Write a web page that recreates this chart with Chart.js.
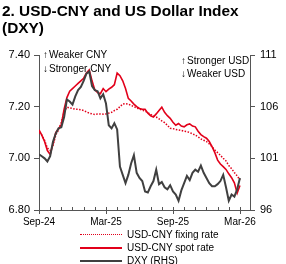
<!DOCTYPE html>
<html>
<head>
<meta charset="utf-8">
<script src="https://cdn.jsdelivr.net/npm/chart.js@4/dist/chart.umd.min.js"></script>
<style>
  body { margin: 0; background: #fff; font-family: "Liberation Sans", Arial, sans-serif; }
  #wrap { position: relative; width: 286px; height: 264px; overflow: hidden; }
  #title { position: absolute; left: 2px; top: 2px; font-size: 15.4px; font-weight: bold; line-height: 17px; color: #000; }
  canvas { position: absolute; left: 0; top: 0; }
  #legend { position: absolute; left: 80px; top: 228px; font-size: 10px; color: #000; }
  .row { height: 13px; line-height: 13px; display: flex; align-items: center; }
  .swatch { width: 42px; height: 0; margin-right: 5px; }
</style>
</head>
<body>
<div id="wrap">
  <canvas id="chart" width="286" height="232"></canvas>
  <div id="title">2. USD-CNY and US Dollar Index<br>(DXY)</div>
  <div id="legend">
    <div class="row"><span class="swatch" style="border-top:1.5px dotted #e2001a"></span>USD-CNY fixing rate</div>
    <div class="row"><span class="swatch" style="border-top:2px solid #e2001a"></span>USD-CNY spot rate</div>
    <div class="row"><span class="swatch" style="border-top:2px solid #404040"></span>DXY (RHS)</div>
  </div>
</div>
<script>
// Weekly-ish samples, one every quarter month starting Sep-24 (x = months since Sep-24)
const step = 0.25;

const spotRate = [
  7.11, 7.09, 7.065, 7.03, 7.015, 7.055, 7.10, 7.115, 7.13, 7.19,
  7.235, 7.26, 7.27, 7.28, 7.29, 7.30, 7.31, 7.33, 7.342, 7.30,
  7.265, 7.255, 7.25, 7.27, 7.258, 7.268, 7.275, 7.285, 7.33, 7.32,
  7.30, 7.27, 7.232, 7.222, 7.21, 7.20, 7.193, 7.19, 7.19, 7.175,
  7.165, 7.16, 7.172, 7.185, 7.198, 7.178, 7.165, 7.155, 7.14, 7.128,
  7.135, 7.125, 7.122, 7.13, 7.133, 7.125, 7.122, 7.105, 7.092, 7.084,
  7.078, 7.065, 7.045, 7.022, 6.993, 6.978, 6.968, 6.957, 6.94, 6.925,
  6.905, 6.865, 6.895
];

const fixingRate = [
  7.10, 7.09, 7.07, 7.04, 7.03, 7.05, 7.09, 7.11, 7.14, 7.18,
  7.198, 7.195, 7.193, 7.19, 7.19, 7.188, 7.185, 7.18, 7.175, 7.172,
  7.17, 7.172, 7.172, 7.171, 7.172, 7.175, 7.178, 7.185, 7.19, 7.20,
  7.21, 7.212, 7.21, 7.205, 7.20, 7.195, 7.19, 7.187, 7.183, 7.177,
  7.17, 7.165, 7.16, 7.153, 7.145, 7.138, 7.128, 7.116, 7.115, 7.112,
  7.11, 7.108, 7.105, 7.103, 7.10, 7.095, 7.09, 7.083, 7.075, 7.07,
  7.065, 7.056, 7.045, 7.032, 7.022, 7.012, 7.00, 6.99, 6.972, 6.96,
  6.945, 6.932, 6.916
];

const dxy = [
  101.4, 101.2, 101.0, 100.7, 101.2, 102.6, 103.4, 103.9, 104.0, 105.0,
  106.7, 106.5, 106.2, 107.0, 107.6, 107.9, 108.5, 109.2, 109.4, 108.0,
  107.6, 107.5, 106.8, 107.2, 106.3, 104.2, 103.9, 104.4, 103.8, 100.2,
  99.4, 98.6, 99.4, 100.5, 101.3, 99.6, 99.1, 98.8, 97.8, 97.7,
  98.3, 98.8, 99.9, 98.5, 98.7, 98.2, 98.0, 98.4, 97.8, 97.5,
  96.9, 97.9, 98.6, 99.3, 98.9, 99.6, 99.9, 99.7, 100.3, 99.6,
  99.1, 98.6, 98.3, 98.3, 98.5, 98.8, 99.4, 98.2, 96.9, 97.5,
  97.3, 98.0, 99.1
];

const xTickPos = [0, 6, 12, 18];
const xTickLabels = ['Sep-24', 'Mar-25', 'Sep-25', 'Mar-26'];
const leftTicks = [6.80, 7.00, 7.20, 7.40];
const rightTicks = [96, 101, 106, 111];

const RED = '#e2001a';
const GREY = '#404040';
const AXIS = '#555555';

const toPoints = arr => arr.map((v, i) => ({ x: i * step, y: v }));

// Month tick marks on the x axis + the two arrow notes
const extras = {
    id: 'extras',
    afterDraw(chart) {
        const ctx = chart.ctx;
        const area = chart.chartArea;
        const xs = chart.scales.x;
        ctx.save();
        ctx.strokeStyle = AXIS;
        ctx.lineWidth = 1;
        for (let m = 0; m <= 18; m++) {
            const px = Math.round(xs.getPixelForValue(m)) + 0.5;
            ctx.beginPath();
            if (m % 6 === 0) {
                ctx.moveTo(px, area.bottom - 3);
                ctx.lineTo(px, area.bottom + 4);
            } else {
                ctx.moveTo(px, area.bottom - 3);
                ctx.lineTo(px, area.bottom);
            }
            ctx.stroke();
        }
        ctx.fillStyle = '#000';
        ctx.font = '10px "Liberation Sans", Arial, sans-serif';
        ctx.textBaseline = 'middle';
        const lx = area.left + 4;
        ctx.fillText('\u2191', lx, area.top);
        ctx.fillText('\u2193', lx, area.top + 14);
        ctx.fillText('Weaker CNY', lx + 6, area.top);
        ctx.fillText('Stronger CNY', lx + 6, area.top + 14);
        const rx = area.right - 69;
        ctx.fillText('\u2191', rx, area.top + 6);
        ctx.fillText('\u2193', rx, area.top + 19);
        ctx.fillText('Stronger USD', rx + 6, area.top + 6);
        ctx.fillText('Weaker USD', rx + 6, area.top + 19);
        ctx.restore();
    }
};

const tickFont = { family: '"Liberation Sans", Arial, sans-serif', size: 11 };

new Chart(document.getElementById('chart'), {
    type: 'line',
    data: {
        datasets: [
            {
                label: 'DXY (RHS)',
                data: toPoints(dxy),
                yAxisID: 'y1',
                borderColor: GREY,
                borderWidth: 2,
                pointRadius: 0,
                tension: 0
            },
            {
                label: 'USD-CNY fixing rate',
                data: toPoints(fixingRate),
                yAxisID: 'y',
                borderColor: RED,
                borderWidth: 1.5,
                borderDash: [1.5, 1.5],
                pointRadius: 0,
                tension: 0
            },
            {
                label: 'USD-CNY spot rate',
                data: toPoints(spotRate),
                yAxisID: 'y',
                borderColor: RED,
                borderWidth: 1.6,
                pointRadius: 0,
                tension: 0
            }
        ]
    },
    options: {
        responsive: false,
        animation: false,
        devicePixelRatio: 1,
        layout: { padding: { top: 55, left: 0, right: 0, bottom: 0 } },
        plugins: { legend: { display: false }, tooltip: { enabled: false } },
        scales: {
            x: {
                type: 'linear',
                min: 0,
                max: 18.9,
                afterBuildTicks: s => { s.ticks = xTickPos.map(v => ({ value: v })); },
                afterFit: s => { s.height = 22; },
                grid: { display: false, drawTicks: false },
                border: { display: true, color: AXIS, width: 1 },
                ticks: {
                    padding: 6,
                    maxRotation: 0,
                    autoSkip: false,
                    color: '#000',
                    font: { family: tickFont.family, size: 10 },
                    callback: v => xTickLabels[xTickPos.indexOf(v)] || ''
                }
            },
            y: {
                position: 'left',
                min: 6.8,
                max: 7.4,
                afterBuildTicks: s => { s.ticks = leftTicks.map(v => ({ value: v })); },
                afterFit: s => { s.width = 39; },
                grid: { drawOnChartArea: false, drawTicks: true, tickLength: 5, color: AXIS },
                border: { display: true, color: AXIS, width: 1 },
                ticks: { padding: 4, color: '#000', font: tickFont, callback: v => v.toFixed(2) }
            },
            y1: {
                position: 'right',
                min: 96,
                max: 111,
                afterBuildTicks: s => { s.ticks = rightTicks.map(v => ({ value: v })); },
                afterFit: s => { s.width = 36; },
                grid: { drawOnChartArea: false, drawTicks: true, tickLength: 5, color: AXIS },
                border: { display: true, color: AXIS, width: 1 },
                ticks: { padding: 5, color: '#000', font: tickFont, callback: v => String(v) }
            }
        }
    },
    plugins: [extras]
});
</script>
</body>
</html>
